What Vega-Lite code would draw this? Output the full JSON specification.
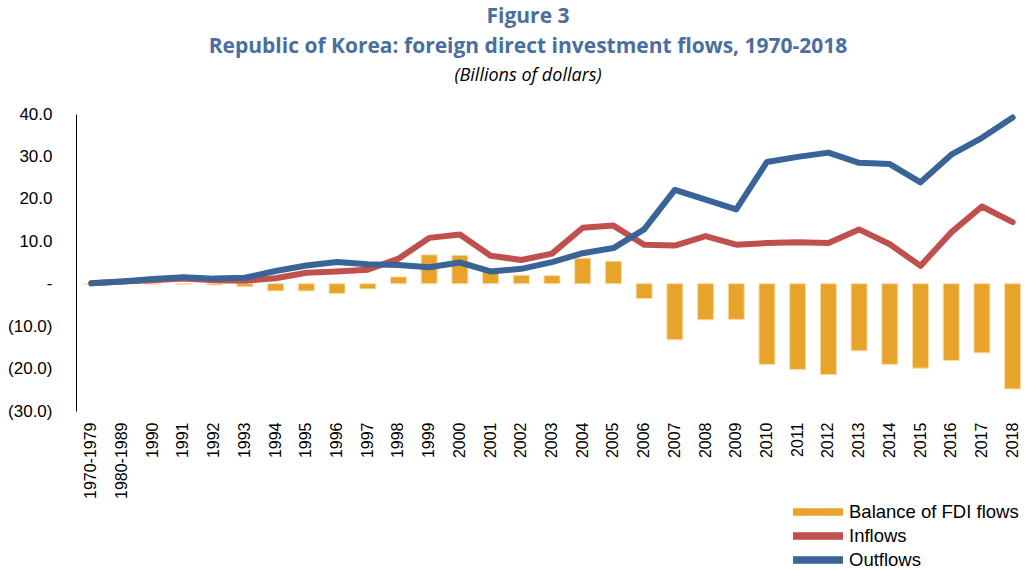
{
  "$schema": "https://vega.github.io/schema/vega-lite/v6.json",
  "width": 952,
  "height": 297,
  "autosize": {"type": "none"},
  "padding": {"left": 76, "top": 114, "right": 0, "bottom": 159},
  "background": "white",
  "title": {
    "text": ["Figure 3", "Republic of Korea: foreign direct investment flows, 1970-2018"],
    "subtitle": "(Billions of dollars)",
    "anchor": "middle",
    "dx": -24,
    "offset": 20,
    "font": "Open Sans",
    "fontSize": 21,
    "fontWeight": "bold",
    "color": "#4A6F9E",
    "lineHeight": 30,
    "subtitleFont": "Open Sans",
    "subtitleFontSize": 18,
    "subtitleFontStyle": "italic",
    "subtitleColor": "#000000",
    "subtitlePadding": 10
  },
  "config": {
    "view": {"stroke": null},
    "font": "Liberation Sans"
  },
  "data": {
    "values": [
      {"period": "1970-1979", "Inflows": 0.1, "Outflows": 0.1, "balance": 0.0},
      {"period": "1980-1989", "Inflows": 0.5, "Outflows": 0.5, "balance": 0.0},
      {"period": "1990", "Inflows": 0.8, "Outflows": 1.1, "balance": -0.1},
      {"period": "1991", "Inflows": 1.2, "Outflows": 1.5, "balance": -0.1},
      {"period": "1992", "Inflows": 0.8, "Outflows": 1.2, "balance": -0.3},
      {"period": "1993", "Inflows": 0.7, "Outflows": 1.4, "balance": -0.7},
      {"period": "1994", "Inflows": 1.3, "Outflows": 3.0, "balance": -1.7},
      {"period": "1995", "Inflows": 2.6, "Outflows": 4.3, "balance": -1.7},
      {"period": "1996", "Inflows": 2.9, "Outflows": 5.1, "balance": -2.3},
      {"period": "1997", "Inflows": 3.3, "Outflows": 4.6, "balance": -1.2},
      {"period": "1998", "Inflows": 5.9, "Outflows": 4.4, "balance": 1.6},
      {"period": "1999", "Inflows": 10.8, "Outflows": 3.9, "balance": 6.8},
      {"period": "2000", "Inflows": 11.6, "Outflows": 5.0, "balance": 6.7},
      {"period": "2001", "Inflows": 6.6, "Outflows": 2.9, "balance": 3.6},
      {"period": "2002", "Inflows": 5.6, "Outflows": 3.5, "balance": 2.0},
      {"period": "2003", "Inflows": 7.1, "Outflows": 5.1, "balance": 1.9},
      {"period": "2004", "Inflows": 13.2, "Outflows": 7.2, "balance": 6.0},
      {"period": "2005", "Inflows": 13.7, "Outflows": 8.4, "balance": 5.3},
      {"period": "2006", "Inflows": 9.2, "Outflows": 12.8, "balance": -3.5},
      {"period": "2007", "Inflows": 9.0, "Outflows": 22.1, "balance": -13.2},
      {"period": "2008", "Inflows": 11.2, "Outflows": 19.8, "balance": -8.5},
      {"period": "2009", "Inflows": 9.2, "Outflows": 17.5, "balance": -8.4},
      {"period": "2010", "Inflows": 9.6, "Outflows": 28.7, "balance": -19.0},
      {"period": "2011", "Inflows": 9.8, "Outflows": 29.9, "balance": -20.2},
      {"period": "2012", "Inflows": 9.6, "Outflows": 30.9, "balance": -21.4},
      {"period": "2013", "Inflows": 12.8, "Outflows": 28.5, "balance": -15.8},
      {"period": "2014", "Inflows": 9.3, "Outflows": 28.2, "balance": -19.0},
      {"period": "2015", "Inflows": 4.2, "Outflows": 23.9, "balance": -19.9},
      {"period": "2016", "Inflows": 12.1, "Outflows": 30.4, "balance": -18.1},
      {"period": "2017", "Inflows": 18.2, "Outflows": 34.4, "balance": -16.3},
      {"period": "2018", "Inflows": 14.5, "Outflows": 39.2, "balance": -24.8}
    ]
  },
  "encoding": {
    "x": {
      "field": "period",
      "type": "ordinal",
      "sort": null,
      "title": null,
      "scale": {"paddingInner": 0.48, "paddingOuter": 0.24},
      "axis": {
        "domain": false,
        "ticks": false,
        "labelAngle": -90,
        "labelFontSize": 16,
        "labelColor": "#000000",
        "labelPadding": 11
      }
    }
  },
  "layer": [
    {
      "mark": {"type": "bar", "color": "#E8A32A", "stroke": "#F6DDA8", "strokeWidth": 1},
      "encoding": {
        "y": {
          "field": "balance",
          "type": "quantitative",
          "title": null,
          "scale": {"domain": [-30, 40], "nice": false, "zero": false},
          "axis": {
            "values": [-30, -20, -10, 0, 10, 20, 30, 40],
            "grid": false,
            "ticks": false,
            "domain": true,
            "domainColor": "#000000",
            "domainWidth": 1,
            "labelFontSize": 17,
            "labelColor": "#000000",
            "labelPadding": 24,
            "labelExpr": "datum.value == 0 ? '-' : (datum.value < 0 ? '(' + format(-datum.value, '.1f') + ')' : format(datum.value, '.1f'))"
          }
        },
        "color": {
          "datum": "Balance of FDI flows",
          "type": "nominal",
          "scale": {
            "domain": ["Balance of FDI flows", "Inflows", "Outflows"],
            "range": ["#E8A32A", "#C0504D", "#386497"]
          },
          "legend": {
            "title": null,
            "orient": "none",
            "legendX": 717,
            "legendY": 388,
            "labelFontSize": 18.5,
            "labelColor": "#000000",
            "labelFont": "Liberation Sans",
            "labelLimit": 400,
            "symbolType": "M-1,-0.38H4V0.38H-1Z",
            "symbolSize": 400,
            "symbolStrokeWidth": 0,
            "labelOffset": 36,
            "rowPadding": 4
          }
        }
      }
    },
    {
      "mark": {"type": "rule", "color": "#000000", "strokeWidth": 2},
      "encoding": {"y": {"datum": 0}}
    },
    {
      "transform": [{"fold": ["Inflows", "Outflows"], "as": ["series", "value"]}],
      "mark": {"type": "line", "strokeWidth": 6, "strokeCap": "round", "strokeJoin": "round"},
      "encoding": {
        "y": {"field": "value", "type": "quantitative"},
        "color": {"field": "series", "type": "nominal", "legend": {"title": null}}
      }
    }
  ],
  "resolve": {"scale": {"y": "shared", "color": "shared"}}
}
